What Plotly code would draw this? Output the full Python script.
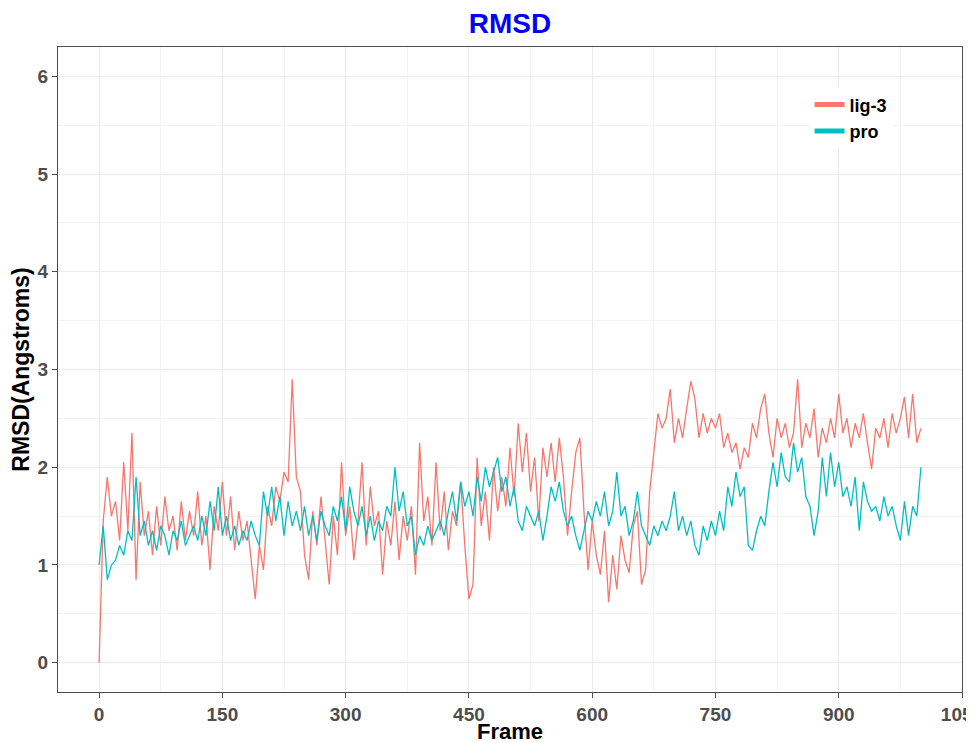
import plotly.graph_objects as go

step = 5
frames = list(range(0, 1001, step))

lig3 = [
    0.00, 1.45, 1.90, 1.50, 1.65, 1.25, 2.05, 1.35, 2.35, 0.85,
    1.85, 1.30, 1.55, 1.10, 1.60, 1.20, 1.70, 1.35, 1.50, 1.15,
    1.65, 1.25, 1.55, 1.30, 1.75, 1.20, 1.50, 0.95, 1.60, 1.35,
    1.85, 1.30, 1.70, 1.15, 1.55, 1.25, 1.45, 1.05, 0.65, 1.20,
    0.95, 1.60, 1.40, 1.80, 1.65, 1.95, 1.85, 2.90, 1.90, 1.75,
    1.10, 0.85, 1.55, 1.20, 1.70, 1.25, 0.80, 1.50, 1.10, 2.05,
    1.30, 1.60, 1.05, 1.45, 2.05, 1.20, 1.80, 1.40, 1.55, 0.90,
    1.45, 1.20, 1.65, 1.05, 1.50, 1.25, 1.60, 0.90, 2.25, 1.45,
    1.70, 1.20, 2.05, 1.35, 1.75, 1.15, 1.55, 1.40, 1.85, 1.20,
    0.65, 0.80, 2.10, 1.40, 1.75, 1.25, 2.00, 1.55, 1.90, 1.60,
    2.20, 1.70, 2.45, 1.95, 2.35, 1.75, 2.10, 1.45, 2.20, 1.90,
    2.25, 1.85, 2.30, 1.90, 1.30, 1.75, 2.15, 2.30, 1.55, 0.95,
    1.45, 1.10, 0.90, 1.35, 0.62, 1.10, 0.75, 1.30, 1.05, 0.92,
    1.40, 1.55, 0.80, 0.95, 1.75, 2.15, 2.55, 2.40, 2.50, 2.80,
    2.25, 2.50, 2.30, 2.60, 2.88, 2.70, 2.30, 2.55, 2.35, 2.50,
    2.40, 2.55, 2.20, 2.35, 2.15, 2.25, 1.98, 2.20, 2.10, 2.45,
    2.30, 2.60, 2.75, 2.35, 2.10, 2.50, 2.30, 2.45, 2.20, 2.35,
    2.90, 2.20, 2.45, 2.30, 2.60, 2.10, 2.40, 2.25, 2.50, 2.30,
    2.75, 2.35, 2.50, 2.20, 2.45, 2.30, 2.55, 2.25, 1.98, 2.40,
    2.30, 2.50, 2.20, 2.55, 2.35, 2.50, 2.72, 2.30, 2.75, 2.25,
    2.40,
]

pro = [
    1.00, 1.40, 0.85, 1.00, 1.05, 1.20, 1.10, 1.35, 1.25, 1.90,
    1.30, 1.45, 1.20, 1.35, 1.15, 1.40, 1.30, 1.10, 1.35, 1.25,
    1.45, 1.20, 1.30, 1.40, 1.25, 1.50, 1.30, 1.65, 1.35, 1.80,
    1.30, 1.50, 1.25, 1.40, 1.20, 1.35, 1.25, 1.45, 1.30, 1.20,
    1.75, 1.50, 1.80, 1.45, 1.70, 1.30, 1.65, 1.40, 1.55, 1.35,
    1.60, 1.30, 1.50, 1.25, 1.55, 1.40, 1.30, 1.60, 1.45, 1.70,
    1.35, 1.80, 1.55, 1.40, 1.60, 1.30, 1.50, 1.25, 1.45, 1.35,
    1.60, 1.50, 2.00, 1.55, 1.75, 1.40, 1.50, 1.10, 1.30, 1.20,
    1.40, 1.25, 1.35, 1.45, 1.30, 1.55, 1.75, 1.45, 1.85, 1.60,
    1.75, 1.50, 1.90, 1.65, 2.00, 1.80, 1.95, 2.10, 1.75, 1.90,
    1.60, 1.80, 1.45, 1.35, 1.60, 1.50, 1.40, 1.55, 1.25, 1.50,
    1.80, 1.65, 1.85, 1.55, 1.40, 1.50, 1.30, 1.15, 1.35, 1.55,
    1.45, 1.65, 1.50, 1.75, 1.40, 1.55, 1.95, 1.50, 1.60, 1.30,
    1.45, 1.75, 1.40, 1.30, 1.20, 1.40, 1.30, 1.45, 1.35, 1.50,
    1.75, 1.35, 1.50, 1.30, 1.45, 1.20, 1.10, 1.40, 1.25, 1.45,
    1.30, 1.55, 1.35, 1.80, 1.60, 1.95, 1.70, 1.80, 1.20, 1.15,
    1.35, 1.50, 1.40, 1.75, 2.05, 1.80, 2.15, 1.90, 1.85, 2.25,
    1.95, 2.10, 1.70, 1.60, 1.30, 1.55, 2.10, 1.70, 2.15, 1.80,
    2.05, 1.70, 1.80, 1.60, 1.90, 1.35, 1.85, 1.65, 1.55, 1.60,
    1.45, 1.70, 1.50, 1.60, 1.40, 1.25, 1.65, 1.30, 1.60, 1.50,
    2.00,
]

series_names = ["lig-3", "pro"]
series_colors = ["#F8766D", "#00BFC4"]
x_ticks = [0, 150, 300, 450, 600, 750, 900, 1050]
y_ticks = [0, 1, 2, 3, 4, 5, 6]

fig = go.Figure()
for name, vals, col in zip(series_names, [lig3, pro], series_colors):
    fig.add_trace(go.Scatter(
        x=frames, y=vals, mode="lines", name=name, showlegend=False,
        line=dict(color=col, width=1.3),
    ))
# legend keys (thick lines, as in the reference legend)
for name, col in zip(series_names, series_colors):
    fig.add_trace(go.Scatter(
        x=[None], y=[None], mode="lines", name=name, showlegend=True,
        line=dict(color=col, width=5),
    ))

font_family = "Liberation Sans, Arial, sans-serif"
axis_common = dict(
    showline=True, linecolor="#4d4d4d", linewidth=1, mirror=True,
    ticks="outside", ticklen=5, tickcolor="#4d4d4d",
    tickfont=dict(family=font_family, size=19, color="#4d4d4d", weight="bold"),
    showgrid=True, gridcolor="#ebebeb", gridwidth=1,
    zeroline=False, automargin=False, ticklabeloverflow="allow",
)

fig.update_layout(
    width=974, height=743,
    margin=dict(l=50, r=20, t=39, b=59),
    paper_bgcolor="white", plot_bgcolor="white",
    title=dict(text="<b>RMSD</b>", x=0.5, xanchor="center", xref="paper",
               y=1 - 15 / 743, yanchor="middle",
               font=dict(family=font_family, size=28, color="#0000FF")),
    showlegend=True,
    legend=dict(x=0.8314, y=0.939, xanchor="left", yanchor="top",
                bgcolor="white", borderwidth=0,
                font=dict(family=font_family, size=18, color="black", weight="bold"),
                itemwidth=30, tracegroupgap=0),
    xaxis=dict(
        range=[-50, 1050], tickvals=x_ticks, ticktext=[str(v) for v in x_ticks],
        minor=dict(showgrid=True, gridcolor="#f4f4f4", dtick=75, tick0=0),
        **axis_common,
    ),
    yaxis=dict(
        range=[-0.3, 6.3], tickvals=y_ticks, ticktext=[str(v) for v in y_ticks],
        title=dict(text="<b>RMSD(Angstroms)</b>", standoff=4,
                   font=dict(family=font_family, size=23, color="black")),
        minor=dict(showgrid=True, gridcolor="#f4f4f4", dtick=0.5, tick0=0),
        **axis_common,
    ),
    annotations=[dict(
        text="<b>Frame</b>", xref="paper", yref="paper", x=0.5, y=-39 / 645,
        xanchor="center", yanchor="middle", showarrow=False,
        font=dict(family=font_family, size=22, color="black"),
    )],
)

fig.write_html("out.html")
